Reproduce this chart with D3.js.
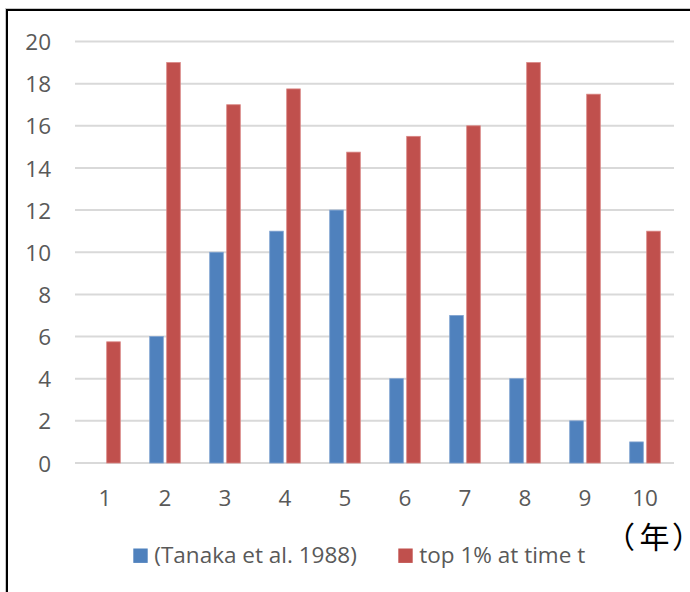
<!DOCTYPE html>
<html><head><meta charset="utf-8">
<script src="https://cdn.jsdelivr.net/npm/d3@7"></script>
<style>body{margin:0;background:#fff}svg{display:block}</style>
</head><body>
<script>
const categories = ["1","2","3","4","5","6","7","8","9","10"];
const seriesNames = ["(Tanaka et al. 1988)", "top 1% at time t"];
const tanaka = [0, 6, 10, 11, 12, 4, 7, 4, 2, 1];
const top1 = [5.75, 19, 17, 17.75, 14.75, 15.5, 16, 19, 17.5, 11];
const yTicks = [0, 2, 4, 6, 8, 10, 12, 14, 16, 18, 20];
const unitLabel = ["（", "年", "）"];
const colors = ["#4f81bd", "#c0504d"];
const strokes = ["#7fa2d0", "#d98583"];

const W = 690, H = 592;
const svg = d3.select("body").append("svg").attr("width", W).attr("height", H);
const font = "'Open Sans', Calibri, Carlito, sans-serif";
const fs = 22.5;

// frame
svg.append("line").attr("x1",5).attr("x2",W).attr("y1",8.5).attr("y2",8.5).attr("stroke","#c8c8c8").attr("stroke-width",1);
svg.append("line").attr("x1",5.5).attr("x2",5.5).attr("y1",8).attr("y2",H).attr("stroke","#c8c8c8").attr("stroke-width",1);
svg.append("line").attr("x1",6).attr("x2",W).attr("y1",10).attr("y2",10).attr("stroke","#000").attr("stroke-width",2);
svg.append("line").attr("x1",7).attr("x2",7).attr("y1",9).attr("y2",H).attr("stroke","#000").attr("stroke-width",2);

const x = d3.scaleBand().domain(categories).range([75, 675]);
const y = d3.scaleLinear().domain([0, 20]).range([463, 41.5]);

// gridlines
svg.append("g").selectAll("line").data(yTicks).join("line")
  .attr("x1", 75).attr("x2", 674)
  .attr("y1", d => y(d)).attr("y2", d => y(d))
  .attr("stroke", "#d9d9d9").attr("stroke-width", 2);

// y axis labels
const yAxis = d3.axisLeft(y).tickValues(yTicks).tickSize(0).tickPadding(0);
const gy = svg.append("g").attr("transform", "translate(51,0)").call(yAxis);
gy.select(".domain").remove();
gy.selectAll("text").attr("font-family", font).attr("font-size", fs).attr("fill", "#595959").attr("dy", "0.36em");

// x axis labels
const xAxis = d3.axisBottom(x).tickSize(0).tickPadding(0);
const gx = svg.append("g").attr("transform", "translate(0,506)").call(xAxis);
gx.select(".domain").remove();
gx.selectAll("text").attr("font-family", font).attr("font-size", fs).attr("fill", "#595959").attr("dy", 0);

// bars
const barW = 13.6, gap = 3.4;
const data = [tanaka, top1];
data.forEach((vals, s) => {
  svg.append("g").selectAll("rect").data(vals).join("rect")
    .attr("x", (d, i) => x(categories[i]) + x.bandwidth()/2 + (s === 0 ? -gap/2 - barW : gap/2))
    .attr("width", barW)
    .attr("y", d => y(d))
    .attr("height", d => y(0) - y(d))
    .attr("fill", colors[s])
    .attr("stroke", d => d > 0 ? strokes[s] : "none")
    .attr("stroke-width", 0.8);
});

// legend
const legX = [133.3, 398.3];
seriesNames.forEach((n, i) => {
  svg.append("rect").attr("x", legX[i]).attr("y", 548.5).attr("width", 14.4).attr("height", 14.4).attr("fill", colors[i]);
  svg.append("text").attr("x", legX[i] + 21).attr("y", 563).attr("font-family", font).attr("font-size", fs)
    .attr("fill", "#595959").text(n);
});

// unit label
const unitX = [605, 639.5, 672];
const ut = svg.append("text").attr("y", 547.5).attr("font-family", "'Noto Sans CJK JP', sans-serif")
  .attr("font-size", 30).attr("fill", "#000");
unitLabel.forEach((c, i) => {
  ut.append("tspan").attr("x", unitX[i]).attr("letter-spacing", i === 2 ? "-18px" : null).text(c);
});
</script>
</body></html>
